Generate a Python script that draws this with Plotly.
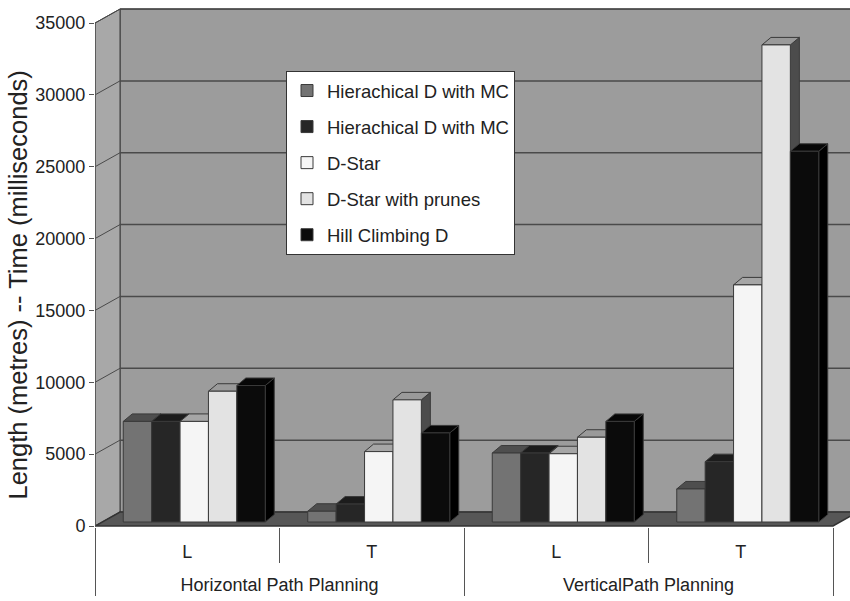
import plotly.graph_objects as go

# ---- data -------------------------------------------------------------
groups = ["Horizontal Path Planning", "Horizontal Path Planning",
          "VerticalPath Planning", "VerticalPath Planning"]
measures = ["L", "T", "L", "T"]

series_names = ["Hierachical D with MC", "Hierachical D with MC", "D-Star",
                "D-Star with prunes", "Hill Climbing D"]
hier_mc_a = [7000, 750, 4800, 2300]
hier_mc_b = [7000, 1250, 4800, 4200]
d_star = [7000, 4900, 4750, 16500]
d_star_prunes = [9100, 8500, 5900, 33200]
hill_climbing = [9500, 6200, 7000, 25800]
series_values = [hier_mc_a, hier_mc_b, d_star, d_star_prunes, hill_climbing]

y_ticks = [0, 5000, 10000, 15000, 20000, 25000, 30000, 35000]
y_title = "Length (metres) -- Time (milliseconds)"

# ---- styling ----------------------------------------------------------
FONT = "Liberation Sans"
TEXT_C = "#222222"
EDGE = "#3a3a3a"
AXIS_C = "#555555"
BACK_WALL = "#9c9c9c"
LEFT_WALL = "#a8a8a8"
FLOOR = "#575757"
GRID_C = "#4a4a4a"

front_colors = ["#737373", "#262626", "#f5f5f5", "#e3e3e3", "#0b0b0b"]
top_colors = ["#4e4e4e", "#1c1c1c", "#a6a6a6", "#9a9a9a", "#070707"]
side_colors = ["#3a3a3a", "#121212", "#5c5c5c", "#4c4c4c", "#000000"]

# ---- geometry (pixels) -------------------------------------------------
W, H = 850, 601
M_L, M_R, M_T, M_B = 95, 0, 0, 74
PLOT_W = W - M_L - M_R
PLOT_H = H - M_T - M_B
PX_CAT = 184.5          # pixels per category slot
PX_K = 14.37            # pixels per 1000 on the value scale
WALL_DX, WALL_DY = 25, 14      # depth of the back wall
PLANE_DX, PLANE_DY = 7, 4      # bar front plane behind the axis plane
DEPTH_DX, DEPTH_DY = 9, 7.5    # depth of each column
BAR_PX = 28.4                  # column width


def ux(px):
    return px / PX_CAT


def uy(px):
    return px * 1000.0 / PX_K


x_range = [-0.5, -0.5 + ux(PLOT_W)]
y_range = [-uy(1), uy(PLOT_H - 1)]
y2_range = [y_range[0] - uy(PLANE_DY), y_range[1] - uy(PLANE_DY)]

n_series = len(series_values)
bw = ux(BAR_PX)
offsets = [-n_series * bw / 2 + k * bw + ux(PLANE_DX) for k in range(n_series)]

# group labels sit one text line below the L / T row
group_labels = ["<br>" + g for g in groups]

fig = go.Figure()

# top and side faces of each column (painted left to right)
for k, vals in enumerate(series_values):
    sx, sy, tx, ty = [], [], [], []
    ddx, ddy = ux(DEPTH_DX), uy(DEPTH_DY)
    yb = uy(PLANE_DY)
    for i, v in enumerate(vals):
        x0 = i + offsets[k]
        x1 = x0 + bw
        yt = v + uy(PLANE_DY)
        sx += [x1, x1, x1 + ddx, x1 + ddx, x1, None]
        sy += [yb, yt, yt + ddy, yb + ddy, yb, None]
        tx += [x0, x1, x1 + ddx, x0 + ddx, x0, None]
        ty += [yt, yt, yt + ddy, yt + ddy, yt, None]
    fig.add_trace(go.Scatter(x=sx, y=sy, mode="lines", fill="toself",
                             fillcolor=side_colors[k],
                             line=dict(color=EDGE, width=1),
                             hoverinfo="skip", showlegend=False,
                             xaxis="x", yaxis="y"))
    fig.add_trace(go.Scatter(x=tx, y=ty, mode="lines", fill="toself",
                             fillcolor=top_colors[k],
                             line=dict(color=EDGE, width=1),
                             hoverinfo="skip", showlegend=False,
                             xaxis="x", yaxis="y"))

# front faces of the columns
for k, vals in enumerate(series_values):
    fig.add_trace(go.Bar(
        x=[group_labels, measures], y=vals, name=series_names[k],
        xaxis="x2", yaxis="y2", width=bw, offset=offsets[k],
        legendgroup=f"s{k}",
        marker=dict(color=front_colors[k], line=dict(color=EDGE, width=1)),
    ))

# walls, floor and gridlines of the 3-D box
wx0 = -0.5
wx1 = -0.5 + ux(WALL_DX)
wdy = uy(WALL_DY)
far_x = x_range[1] + 1
top_v = y_ticks[-1]
shapes = [
    dict(type="path", xref="x", yref="y", layer="below",
         path=f"M{wx1},{wdy} L{wx1},{top_v + wdy} L{far_x},{top_v + wdy} L{far_x},{wdy} Z",
         fillcolor=BACK_WALL, line=dict(color=EDGE, width=1)),
    dict(type="path", xref="x", yref="y", layer="below",
         path=f"M{wx0},0 L{wx0},{top_v} L{wx1},{top_v + wdy} L{wx1},{wdy} Z",
         fillcolor=LEFT_WALL, line=dict(color=EDGE, width=1)),
    dict(type="path", xref="x", yref="y", layer="below",
         path=f"M{wx0},0 L3.5,0 L{3.5 + ux(WALL_DX)},{wdy} L{wx1},{wdy} Z",
         fillcolor=FLOOR, line=dict(color="#333333", width=1.5)),
]
for t in y_ticks[1:]:
    shapes.append(dict(type="line", xref="x", yref="y", layer="below",
                       x0=wx1, x1=far_x, y0=t + wdy, y1=t + wdy,
                       line=dict(color=GRID_C, width=1.5)))
    shapes.append(dict(type="line", xref="x", yref="y", layer="below",
                       x0=wx0, x1=wx1, y0=t, y1=t + wdy,
                       line=dict(color=GRID_C, width=1)))
shapes.append(dict(type="line", xref="x", yref="y", layer="below",
                   x0=wx0, x1=wx0, y0=0, y1=top_v,
                   line=dict(color=AXIS_C, width=1.5)))

# value-axis title, centred on the wall height
title_y = (uy(PLANE_DY) + top_v) / 2
annotations = [dict(text=y_title, xref="paper", yref="y",
                    x=(18 - M_L) / PLOT_W, y=title_y - uy(13),
                    xanchor="center", yanchor="middle", textangle=-90,
                    showarrow=False,
                    font=dict(family=FONT, size=25.5, color=TEXT_C))]

fig.update_layout(
    width=W, height=H,
    margin=dict(l=M_L, r=M_R, t=M_T, b=M_B, pad=0),
    paper_bgcolor="white", plot_bgcolor="white",
    font=dict(family=FONT, size=18, color=TEXT_C),
    barmode="overlay",
    shapes=shapes,
    annotations=annotations,
    xaxis=dict(range=x_range, showticklabels=False, ticks="outside",
               tickvals=[0.5, 2.5], ticklen=35, tickcolor=AXIS_C, tickwidth=1,
               showgrid=False, zeroline=False, showline=False),
    xaxis2=dict(type="multicategory", overlaying="x", anchor="y2",
                range=x_range, ticks="", ticklabelstandoff=12,
                showgrid=False, zeroline=False,
                showline=False, showdividers=True, dividercolor=AXIS_C,
                dividerwidth=1, tickfont=dict(family=FONT, size=18, color=TEXT_C)),
    yaxis=dict(range=y_range, tickvals=y_ticks, tickformat="d",
               ticks="outside", ticklen=5,
               tickcolor=AXIS_C, showgrid=False, zeroline=False, showline=False,
               tickfont=dict(family=FONT, size=18, color=TEXT_C)),
    yaxis2=dict(overlaying="y", range=y2_range, visible=False),
    legend=dict(x=(286 - M_L) / PLOT_W, y=1 - 71 / PLOT_H,
                xanchor="left", yanchor="top", bgcolor="white",
                bordercolor="#333333", borderwidth=1,
                font=dict(family=FONT, size=18.5, color=TEXT_C),
                traceorder="grouped", tracegroupgap=9),
)

fig.write_html("out.html")
